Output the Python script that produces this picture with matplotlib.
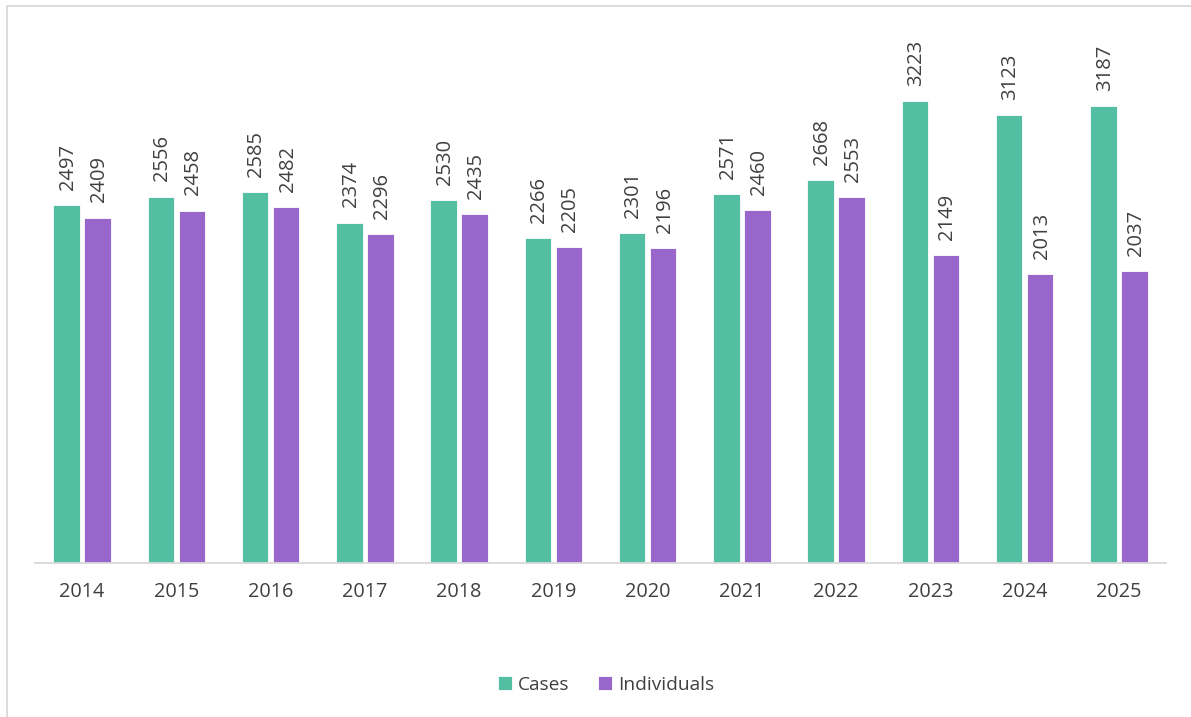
import numpy as np
import matplotlib.pyplot as plt
from matplotlib.patches import Rectangle

# ============================================================
# Data
# ============================================================
years = ["2014", "2015", "2016", "2017", "2018", "2019",
         "2020", "2021", "2022", "2023", "2024", "2025"]
cases = [2497, 2556, 2585, 2374, 2530, 2266, 2301, 2571, 2668, 3223, 3123, 3187]
individuals = [2409, 2458, 2482, 2296, 2435, 2205, 2196, 2460, 2553, 2149, 2013, 2037]

teal = "#52BFA3"
purple = "#9966CC"
text_col = "#404040"

plt.rcParams["font.family"] = ["Open Sans", "DejaVu Sans"]

W, H = 1191, 717
fig = plt.figure(figsize=(W / 100, H / 100), dpi=100)

# outer chart frame (light gray)
fig.patches.append(Rectangle((7 / W, -0.01), 1.2, 1 - 6 / H + 0.01,
                             transform=fig.transFigure, fill=False,
                             edgecolor="#d9d9d9", linewidth=1.3))

# axes: x 35..1166 px, baseline at y=563, top at y=20
ax = fig.add_axes([35 / W, (H - 563) / H, (1166 - 35) / W, (563 - 20) / H])
px_per_unit = (563 - 205) / 2497
ax.set_ylim(0, (563 - 20) / px_per_unit)

x = np.arange(len(years))
bw = 0.28
gap = 0.05
b1 = ax.bar(x - (bw + gap) / 2, cases, bw, color=teal, edgecolor="white",
            linewidth=0.6, label="Cases")
b2 = ax.bar(x + (bw + gap) / 2, individuals, bw, color=purple, edgecolor="white",
            linewidth=0.6, label="Individuals")

for bars in (b1, b2):
    for rect in bars:
        ax.annotate(f"{int(rect.get_height())}",
                    (rect.get_x() + rect.get_width() / 2, rect.get_height()),
                    xytext=(1, 11), textcoords="offset points",
                    rotation=90, ha="center", va="bottom",
                    fontsize=14.5, color=text_col)

ax.set_xlim(-0.5, len(years) - 0.5)
ax.set_xticks(x)
ax.set_xticklabels(years, fontsize=14.3, color=text_col)
ax.tick_params(axis="x", length=0, pad=14)
ax.set_yticks([])
for s in ["top", "right", "left"]:
    ax.spines[s].set_visible(False)
ax.spines["bottom"].set_color("#d9d9d9")
ax.spines["bottom"].set_linewidth(1.3)

fig.legend(handles=[b1, b2], labels=["Cases", "Individuals"],
           loc="center", bbox_to_anchor=(606 / W, (H - 685) / H),
           ncol=2, frameon=False, fontsize=13.8, handlelength=0.75,
           handleheight=0.75, handletextpad=0.3, columnspacing=1.5,
           labelcolor=text_col)

fig.savefig("out.png", dpi=100)
